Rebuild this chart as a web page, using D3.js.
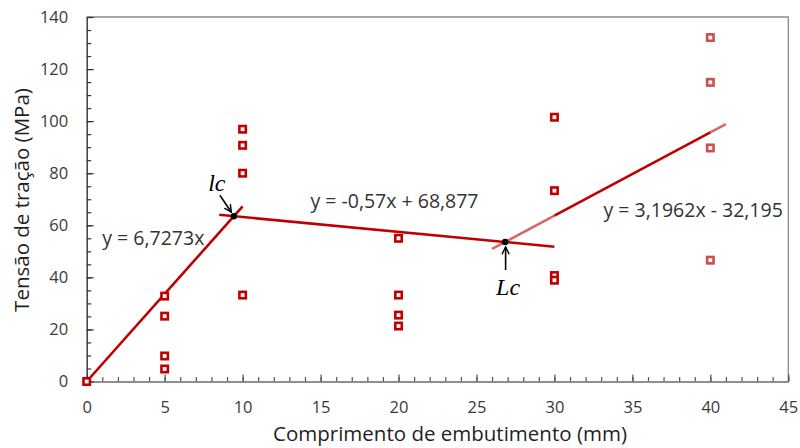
<!DOCTYPE html>
<html>
<head>
<meta charset="utf-8">
<script src="https://cdn.jsdelivr.net/npm/d3@7"></script>
<style>
  html, body { margin: 0; padding: 0; background: #fff; }
  svg { display: block; }
</style>
</head>
<body>
<svg id="chart" width="800" height="448"></svg>
<script>
// Embedment length (mm) and tensile stress (MPa) of each specimen
const lengthMm = [0, 5, 5, 5, 5, 10, 10, 10, 10, 20, 20, 20, 20, 30, 30, 30, 30, 40, 40, 40, 40];
const stressMPa = [0, 32.8, 25.1, 9.8, 4.8, 96.9, 90.7, 80.0, 33.2, 55.0, 33.2, 25.5, 21.3,
                   101.5, 73.3, 40.7, 38.9, 132.1, 114.9, 89.7, 46.6];

// Axis ticks
const xTicks = [0, 5, 10, 15, 20, 25, 30, 35, 40, 45];
const yTicks = [0, 20, 40, 60, 80, 100, 120, 140];

// Linear trend lines y = a*x + b
const trendSlope = [6.7273, -0.57, 3.1962];
const trendIntercept = [0, 68.877, -32.195];
const trendFrom = [0, 8.5, 26];     // drawn range, including forecast
const trendTo = [10, 30, 41];
const fitFrom = [0, 8.5, 30];       // range covered by the fitted data
const fitTo = [10, 30, 40];
const trendLabels = ["y = 6,7273x", "y = -0,57x + 68,877", "y = 3,1962x - 32,195"];

// Transition points between the regimes
const pointLabels = ["lc", "Lc"];

const svg = d3.select("#chart");
const plotLeft = 86.7, plotRight = 788.3, plotTop = 17, plotBottom = 381.5;
const x = d3.scaleLinear().domain([0, 45]).range([plotLeft, plotRight]);
const y = d3.scaleLinear().domain([0, 140]).range([plotBottom, plotTop]);

const red = "#c00000";
const tickFont = "'Open Sans', sans-serif";

// Frame on the top and right
svg.append("path")
  .attr("d", `M${plotLeft},${plotTop}H${plotRight}V${plotBottom}`)
  .attr("fill", "none").attr("stroke", "#8a8a8a").attr("stroke-width", 1.3);

// Minor ticks
svg.append("g").attr("transform", `translate(0,${plotBottom})`)
  .call(d3.axisBottom(x).tickValues(d3.range(0, 46, 1)).tickSize(-4.5).tickFormat(""))
  .call(g => g.select(".domain").remove())
  .call(g => g.selectAll("line").attr("stroke", "#555").attr("stroke-width", 1.2));
svg.append("g").attr("transform", `translate(${plotLeft},0)`)
  .call(d3.axisLeft(y).tickValues(d3.range(0, 141, 5)).tickSize(-4.5).tickFormat(""))
  .call(g => g.select(".domain").remove())
  .call(g => g.selectAll("line").attr("stroke", "#333").attr("stroke-width", 1.2));

// Major axes
const xAxis = svg.append("g").attr("transform", `translate(0,${plotBottom})`)
  .call(d3.axisBottom(x).tickValues(xTicks).tickSizeInner(-7).tickSizeOuter(0).tickPadding(20));
xAxis.select(".domain").attr("stroke", "#6a6a6a").attr("stroke-width", 1.4);
xAxis.selectAll("line").attr("stroke", "#555").attr("stroke-width", 1.2);
xAxis.selectAll("text").attr("font-family", tickFont).attr("font-size", 16.5).attr("fill", "#3a3a3a");

const yAxis = svg.append("g").attr("transform", `translate(${plotLeft},0)`)
  .call(d3.axisLeft(y).tickValues(yTicks).tickSizeInner(-7).tickSizeOuter(0).tickPadding(18.5));
yAxis.select(".domain").attr("stroke", "#333").attr("stroke-width", 1.4);
yAxis.selectAll("line").attr("stroke", "#333").attr("stroke-width", 1.2);
yAxis.selectAll("text").attr("font-family", tickFont).attr("font-size", 16.5).attr("fill", "#3a3a3a");

// Axis titles
svg.append("text")
  .attr("x", 450).attr("y", 441)
  .attr("text-anchor", "middle")
  .attr("font-family", tickFont).attr("font-size", 20.5).attr("fill", "#1f1f1f")
  .text("Comprimento de embutimento (mm)");
svg.append("text")
  .attr("transform", "translate(29,200) rotate(-90)")
  .attr("text-anchor", "middle")
  .attr("font-family", tickFont).attr("font-size", 20.5).attr("fill", "#1f1f1f")
  .text("Tensão de tração (MPa)");

// Trend lines: forecast parts lighter, fitted parts solid
const line = d3.line().x(d => x(d[0])).y(d => y(d[1]));
trendSlope.forEach((a, i) => {
  const b = trendIntercept[i];
  const seg = (x0, x1) => [[x0, a * x0 + b], [x1, a * x1 + b]];
  const parts = [
    { d: seg(trendFrom[i], fitFrom[i]), o: 0.6 },
    { d: seg(fitTo[i], trendTo[i]), o: 0.6 },
    { d: seg(fitFrom[i], fitTo[i]), o: 1 }
  ];
  parts.forEach(p => {
    if (p.d[1][0] - p.d[0][0] <= 0) return;
    svg.append("path").attr("d", line(p.d))
      .attr("fill", "none").attr("stroke", red).attr("stroke-opacity", p.o)
      .attr("stroke-width", 2.6);
  });
});

// Specimen markers
svg.append("g").selectAll("rect")
  .data(lengthMm.map((v, i) => [v, stressMPa[i]]))
  .join("rect")
  .attr("x", d => x(d[0]) - 3.2).attr("y", d => y(d[1]) - 3.2)
  .attr("width", 6.4).attr("height", 6.4)
  .attr("fill", "#fff")
  .attr("stroke", d => d[0] === 40 ? "#c8504f" : red)
  .attr("stroke-width", 2.6);

// Equation labels
const eqFont = "'Open Sans', sans-serif";
const eqPos = [[1.0, 52.3], [14.35, 66.5], [33.15, 63.0]];
trendLabels.forEach((t, i) => {
  svg.append("text")
    .attr("x", x(eqPos[i][0])).attr("y", y(eqPos[i][1]))
    .attr("font-family", eqFont).attr("font-size", 19.5).attr("fill", "#333")
    .text(t);
});

// Transition points (intersections of consecutive trend lines)
const crossings = [0, 1].map(i => {
  const xc = (trendIntercept[i + 1] - trendIntercept[i]) / (trendSlope[i] - trendSlope[i + 1]);
  return [xc, trendSlope[i] * xc + trendIntercept[i]];
});

svg.append("defs").append("marker")
  .attr("id", "head").attr("viewBox", "0 0 10 10")
  .attr("refX", 9).attr("refY", 5)
  .attr("markerWidth", 9).attr("markerHeight", 9)
  .attr("markerUnits", "userSpaceOnUse")
  .attr("orient", "auto")
  .append("path").attr("d", "M1,1L9,5L1,9")
  .attr("fill", "none").attr("stroke", "#000").attr("stroke-width", 1.6);

// Arrow and label for lc
{
  const [cx, cy] = [x(crossings[0][0]), y(crossings[0][1])];
  svg.append("line")
    .attr("x1", cx - 14).attr("y1", cy - 21)
    .attr("x2", cx - 2.5).attr("y2", cy - 4)
    .attr("stroke", "#000").attr("stroke-width", 1.6).attr("marker-end", "url(#head)");
  svg.append("text")
    .attr("x", cx - 17).attr("y", cy - 25).attr("text-anchor", "middle")
    .attr("font-family", "'Liberation Serif', serif").attr("font-style", "italic")
    .attr("font-size", 24).attr("fill", "#000").text(pointLabels[0]);
}
// Arrow and label for Lc
{
  const [cx, cy] = [x(crossings[1][0]), y(crossings[1][1])];
  svg.append("line")
    .attr("x1", cx + 0.5).attr("y1", cy + 28)
    .attr("x2", cx + 0.5).attr("y2", cy + 5)
    .attr("stroke", "#000").attr("stroke-width", 1.6).attr("marker-end", "url(#head)");
  svg.append("text")
    .attr("x", cx + 3).attr("y", cy + 53).attr("text-anchor", "middle")
    .attr("font-family", "'Liberation Serif', serif").attr("font-style", "italic")
    .attr("font-size", 24).attr("fill", "#000").text(pointLabels[1]);
}

svg.append("g").selectAll("circle").data(crossings).join("circle")
  .attr("cx", d => x(d[0])).attr("cy", d => y(d[1])).attr("r", 3.2).attr("fill", "#000");
</script>
</body>
</html>
